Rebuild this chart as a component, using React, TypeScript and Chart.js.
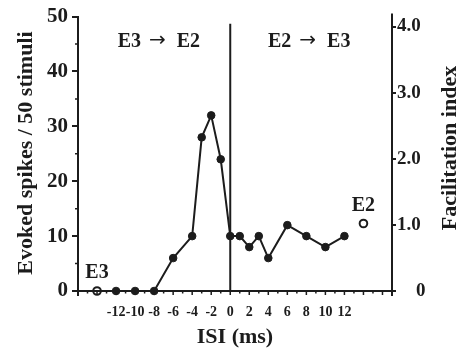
import React, { useEffect, useRef } from "react";
import { Chart, registerables } from "chart.js";

Chart.register(...registerables);

// ---- data ----
const isiMs = [-12, -10, -8, -6, -4, -3, -2, -1, 0, 1, 2, 3, 4, 6, 8, 10, 12];
const evokedSpikes = [0, 0, 0, 6, 10, 28, 32, 24, 10, 10, 8, 10, 6, 12, 10, 8, 10];
const controlIsi = [-14, 14];
const controlSpikes = [0, 12.3];
const controlLabels = ["E3", "E2"];
const xTickValues = [-12, -10, -8, -6, -4, -2, 0, 2, 4, 6, 8, 10, 12];
const rightTickValues = [0, 1, 2, 3, 4];
const rightTickLabels = ["    0", "1.0", "2.0", "3.0", "4.0"];
const directionFrom = ["E3", "E2"];
const directionTo = ["E2", "E3"];
const directionX = [-7.5, 8.3];
const directionY = 45.8;
const dividerTop = 48.7;

const INK = "#1c1c1c";
const SERIF = "'Liberation Serif', 'Times New Roman', serif";

const drawPlugin = {
  id: "decor",
  afterDraw(chart: any) {
    const { ctx, chartArea, scales } = chart;
    const x = scales.x;
    const y = scales.y;
    ctx.save();
    ctx.strokeStyle = INK;
    ctx.fillStyle = INK;
    ctx.lineWidth = 2;

    // axis extensions
    ctx.beginPath();
    ctx.moveTo(chartArea.left, chartArea.bottom);
    ctx.lineTo(chartArea.left, chartArea.bottom + 5);
    ctx.moveTo(chartArea.left - 4, chartArea.bottom);
    ctx.lineTo(chartArea.right + 4, chartArea.bottom);
    ctx.moveTo(chartArea.right, chartArea.bottom + 5);
    ctx.lineTo(chartArea.right, chartArea.top - 3);
    ctx.stroke();

    // minor ticks on the left axis
    ctx.lineWidth = 1.5;
    ctx.beginPath();
    for (let v = 5; v < 50; v += 10) {
      const py = y.getPixelForValue(v);
      ctx.moveTo(chartArea.left, py);
      ctx.lineTo(chartArea.left - 3, py);
    }
    // x ticks at every ms
    for (let v = -15; v <= 16; v++) {
      const px = x.getPixelForValue(v);
      ctx.moveTo(px, chartArea.bottom);
      ctx.lineTo(px, chartArea.bottom + (v % 2 === 0 ? 4 : 2.5));
    }
    ctx.stroke();

    // divider at ISI = 0
    ctx.lineWidth = 2;
    ctx.beginPath();
    const x0 = x.getPixelForValue(0);
    ctx.moveTo(x0, y.getPixelForValue(dividerTop));
    ctx.lineTo(x0, chartArea.bottom);
    ctx.stroke();

    // direction labels  "E3 → E2"
    ctx.textBaseline = "alphabetic";
    ctx.textAlign = "left";
    const letterFont = `bold 20px ${SERIF}`;
    const arrowFont = `20px 'DejaVu Sans', sans-serif`;
    directionFrom.forEach((from, i) => {
      const to = directionTo[i];
      ctx.font = letterFont;
      const wFrom = ctx.measureText(from).width;
      const wTo = ctx.measureText(to).width;
      ctx.font = arrowFont;
      const wArrow = ctx.measureText("→").width;
      const gap1 = 8;
      const gap2 = 11;
      const total = wFrom + gap1 + wArrow + gap2 + wTo;
      const cx = x.getPixelForValue(directionX[i]);
      const base = y.getPixelForValue(directionY) + 7;
      let px = cx - total / 2;
      ctx.font = letterFont;
      ctx.fillText(from, px, base);
      px += wFrom + gap1;
      ctx.font = arrowFont;
      ctx.fillText("→", px, base - 0.5);
      px += wArrow + gap2;
      ctx.font = letterFont;
      ctx.fillText(to, px, base);
    });

    // control labels
    ctx.textAlign = "center";
    ctx.textBaseline = "middle";
    ctx.font = `bold 20px ${SERIF}`;
    controlLabels.forEach((t, i) => {
      ctx.fillText(
        t,
        x.getPixelForValue(controlIsi[i]),
        y.getPixelForValue(controlSpikes[i]) - 18
      );
    });

    // titles
    ctx.font = `bold 22px ${SERIF}`;
    ctx.fillText("ISI (ms)", 235, 337);

    ctx.save();
    ctx.translate(26, 153);
    ctx.rotate(-Math.PI / 2);
    ctx.fillText("Evoked spikes / 50 stimuli", 0, 0);
    ctx.restore();

    ctx.save();
    ctx.translate(450, 148);
    ctx.rotate(-Math.PI / 2);
    ctx.fillText("Facilitation index", 0, 0);
    ctx.restore();

    ctx.restore();
  },
};

export default function App() {
  const canvasRef = useRef<HTMLCanvasElement | null>(null);

  useEffect(() => {
    if (!canvasRef.current) return;
    const chart = new Chart(canvasRef.current, {
      type: "line",
      data: {
        datasets: [
          {
            data: isiMs.map((v, i) => ({ x: v, y: evokedSpikes[i] })),
            borderColor: INK,
            borderWidth: 2,
            pointRadius: 3.8,
            pointBackgroundColor: INK,
            pointBorderColor: INK,
            pointBorderWidth: 1,
            yAxisID: "y",
            clip: false,
          } as any,
          {
            data: controlIsi.map((v, i) => ({ x: v, y: controlSpikes[i] })),
            showLine: false,
            pointRadius: 3.8,
            pointBackgroundColor: "#ffffff",
            pointBorderColor: INK,
            pointBorderWidth: 2,
            yAxisID: "y",
            clip: false,
          } as any,
        ],
      },
      options: {
        responsive: true,
        maintainAspectRatio: false,
        animation: false,
        devicePixelRatio: 1,
        layout: { padding: { top: 15, left: 0, right: 0, bottom: 0 } },
        plugins: { legend: { display: false }, tooltip: { enabled: false } },
        scales: {
          x: {
            type: "linear",
            min: -16,
            max: 17,
            afterBuildTicks: (s: any) => {
              s.ticks = xTickValues.map((v) => ({ value: v }));
            },
            afterFit: (s: any) => {
              s.height = 60;
            },
            grid: { display: false, drawTicks: false },
            border: { display: true, color: INK, width: 2 },
            ticks: {
              color: INK,
              font: { family: SERIF, size: 14, weight: "bold" },
              padding: 13,
              maxRotation: 0,
              autoSkip: false,
              callback: (v: any) => String(v),
            },
          },
          y: {
            position: "left",
            min: 0,
            max: 50,
            afterFit: (s: any) => {
              s.width = 78;
            },
            ticks: {
              stepSize: 10,
              color: INK,
              font: { family: SERIF, size: 21, weight: "bold" },
              padding: 4,
            },
            grid: {
              drawOnChartArea: false,
              drawTicks: true,
              tickLength: 6,
              color: INK,
              lineWidth: 2,
            },
            border: { display: true, color: INK, width: 2 },
          },
          y1: {
            position: "right",
            min: 0,
            max: 4.15,
            afterBuildTicks: (s: any) => {
              s.ticks = rightTickValues.map((v) => ({ value: v }));
            },
            afterFit: (s: any) => {
              s.width = 68;
            },
            ticks: {
              color: INK,
              font: { family: SERIF, size: 19, weight: "bold" },
              padding: 1,
              callback: (v: any) => rightTickLabels[rightTickValues.indexOf(Number(v))] ?? "",
            },
            grid: {
              drawOnChartArea: false,
              drawTicks: true,
              tickLength: 4,
              color: INK,
              lineWidth: 2,
            },
            border: { display: true, color: INK, width: 2 },
          },
        },
      } as any,
      plugins: [drawPlugin],
    });
    return () => chart.destroy();
  }, []);

  return (
    <div style={{ position: "absolute", left: 0, top: 0, width: 460, height: 351, background: "#fff" }}>
      <canvas ref={canvasRef} />
    </div>
  );
}
